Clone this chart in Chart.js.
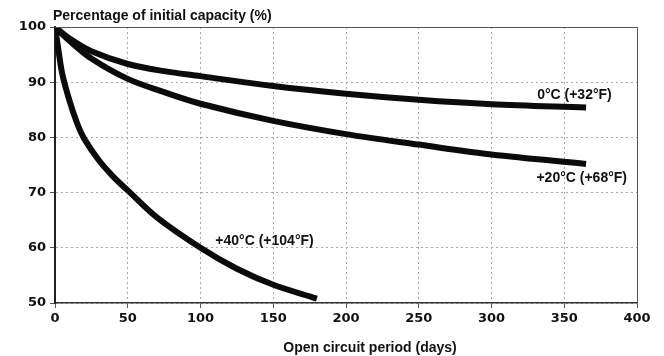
<!DOCTYPE html>
<html>
<head>
<meta charset="utf-8">
<script src="https://cdn.jsdelivr.net/npm/chart.js@4/dist/chart.umd.min.js"></script>
<style>
  html, body { margin: 0; padding: 0; background: #fff; }
  #wrap { width: 664px; height: 356px; }
</style>
</head>
<body>
<div id="wrap"><canvas id="chart" width="664" height="356"></canvas></div>
<script>
// capacity retention vs open circuit storage time
const days0 = [0, 10, 25, 50, 75, 100, 150, 200, 250, 300, 365];
const cap0 = [100, 97.9, 95.6, 93.3, 92.0, 91.1, 89.3, 87.9, 86.8, 86.0, 85.4];

const days20 = [0, 10, 25, 50, 75, 100, 150, 200, 250, 300, 365];
const cap20 = [100, 97.5, 94.3, 90.6, 88.2, 86.1, 83.0, 80.6, 78.7, 76.9, 75.2];

const days40 = [0, 2, 5, 10, 15, 20, 30, 40, 50, 70, 100, 125, 150, 180];
const cap40 = [100, 96.5, 91.5, 86.6, 82.7, 79.8, 75.9, 72.9, 70.4, 65.5, 60, 56.2, 53.3, 50.8];

const xTicks = [0, 50, 100, 150, 200, 250, 300, 350, 400];
const yTicks = [50, 60, 70, 80, 90, 100];

// curve labels: [text, day, value]
const curveLabels = [
  ["0°C (+32°F)", 357, 87.7],
  ["+20°C (+68°F)", 362, 72.7],
  ["+40°C (+104°F)", 144, 61.2]
];

const yTitle = "Percentage of initial capacity (%)";
const xTitle = "Open circuit period (days)";

function pts(xs, ys) {
  return xs.map((x, i) => ({ x: x, y: ys[i] }));
}

function serie(label, xs, ys) {
  return {
    label: label,
    data: pts(xs, ys),
    borderColor: "#0b0b0b",
    borderWidth: 6,
    pointRadius: 0,
    fill: false,
    tension: 0.35
  };
}

const textos = {
  id: "textos",
  afterDraw(chart) {
    const ctx = chart.ctx;
    const a = chart.chartArea;
    const sx = chart.scales.x;
    const sy = chart.scales.y;
    ctx.save();
    // frame top and right
    ctx.strokeStyle = "#555";
    ctx.lineWidth = 1;
    ctx.beginPath();
    ctx.moveTo(a.left, a.top + 0.5);
    ctx.lineTo(a.right + 0.5, a.top + 0.5);
    ctx.lineTo(a.right + 0.5, a.bottom);
    ctx.stroke();

    ctx.fillStyle = "#111";
    ctx.font = "bold 14px 'Liberation Sans', Arial, sans-serif";
    ctx.textBaseline = "middle";
    ctx.textAlign = "left";
    ctx.fillText(yTitle, a.left - 2, a.top - 11);
    ctx.textAlign = "center";
    ctx.fillText(xTitle, a.left + 315, a.bottom + 45);

    curveLabels.forEach(l => {
      ctx.fillText(l[0], sx.getPixelForValue(l[1]), sy.getPixelForValue(l[2]));
    });
    ctx.restore();
  }
};

new Chart(document.getElementById("chart"), {
  type: "line",
  data: {
    datasets: [
      serie("0°C", days0, cap0),
      serie("+20°C", days20, cap20),
      serie("+40°C", days40, cap40)
    ]
  },
  options: {
    responsive: false,
    devicePixelRatio: 1,
    animation: false,
    layout: { padding: { top: 27, right: 27, left: 0, bottom: 0 } },
    plugins: {
      legend: { display: false },
      tooltip: { enabled: false }
    },
    scales: {
      x: {
        type: "linear",
        min: 0,
        max: 400,
        afterFit: s => { s.height = 53; },
        afterBuildTicks: s => { s.ticks = xTicks.map(v => ({ value: v })); },
        ticks: {
          padding: 3,
          color: "#111",
          font: { family: "'DejaVu Sans', sans-serif", weight: "bold", size: 13 }
        },
        grid: { color: "#a8a8a8", tickLength: 5, tickColor: "#555" },
        border: { display: true, color: "#333", width: 1.5, dash: [2, 3] }
      },
      y: {
        min: 50,
        max: 100,
        afterFit: s => { s.width = 55; },
        afterBuildTicks: s => { s.ticks = yTicks.map(v => ({ value: v })); },
        ticks: {
          padding: 4,
          color: "#111",
          font: { family: "'DejaVu Sans', sans-serif", weight: "bold", size: 13 }
        },
        grid: { color: "#a8a8a8", tickLength: 5, tickColor: "#555" },
        border: { display: true, color: "#222", width: 2, dash: [2, 3] }
      }
    }
  },
  plugins: [textos]
});
</script>
</body>
</html>
